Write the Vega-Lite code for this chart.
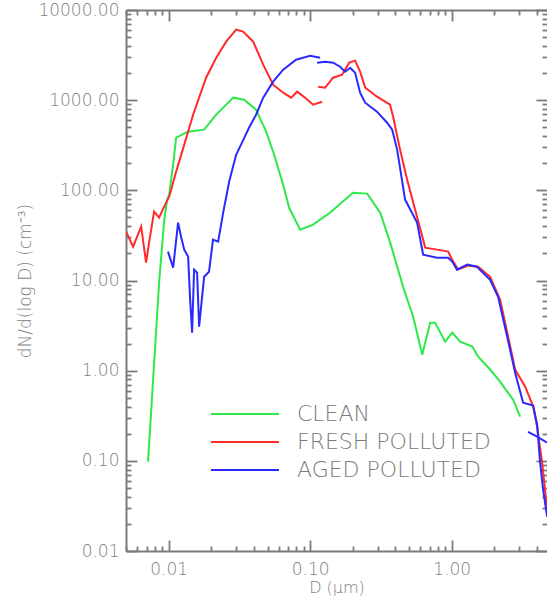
{
  "$schema": "https://vega.github.io/schema/vega-lite/v6.json",
  "width": 421,
  "height": 541,
  "autosize": {"type": "none"},
  "padding": {"left": 126, "top": 10, "right": 0, "bottom": 48},
  "background": "white",
  "config": {
    "view": {"stroke": null},
    "axis": {
      "grid": false,
      "domainColor": "#7a7a7a",
      "domainWidth": 2,
      "tickColor": "#7a7a7a",
      "tickWidth": 1.8,
      "labelFont": "DejaVu Sans",
      "labelFontWeight": 200,
      "labelFontSize": 17,
      "labelColor": "#808080",
      "titleFont": "DejaVu Sans",
      "titleFontWeight": 200,
      "titleFontSize": 17,
      "titleColor": "#808080",
      "labelOverlap": false,
      "labelFlush": false
    },
    "legend": {
      "orient": "none",
      "legendX": 84,
      "legendY": 396,
      "symbolType": "stroke",
      "symbolSize": 4624,
      "symbolStrokeWidth": 2,
      "clipHeight": 16,
      "rowPadding": 6,
      "labelOffset": 17,
      "labelFont": "DejaVu Sans",
      "labelFontWeight": 200,
      "labelFontSize": 22,
      "labelColor": "#7a7a7a",
      "labelLimit": 400,
      "padding": 0
    }
  },
  "data": {
    "values": [
      {"s": "CLEAN", "g": "c1", "D": 0.00716, "N": 0.098},
      {"s": "CLEAN", "g": "c1", "D": 0.00857, "N": 9.5},
      {"s": "CLEAN", "g": "c1", "D": 0.00929, "N": 45},
      {"s": "CLEAN", "g": "c1", "D": 0.00976, "N": 78.8},
      {"s": "CLEAN", "g": "c1", "D": 0.0101, "N": 89.5},
      {"s": "CLEAN", "g": "c1", "D": 0.01077, "N": 193},
      {"s": "CLEAN", "g": "c1", "D": 0.0113, "N": 384},
      {"s": "CLEAN", "g": "c1", "D": 0.01374, "N": 447},
      {"s": "CLEAN", "g": "c1", "D": 0.01783, "N": 471},
      {"s": "CLEAN", "g": "c1", "D": 0.0217, "N": 691},
      {"s": "CLEAN", "g": "c1", "D": 0.0286, "N": 1066},
      {"s": "CLEAN", "g": "c1", "D": 0.0342, "N": 1012},
      {"s": "CLEAN", "g": "c1", "D": 0.0415, "N": 785},
      {"s": "CLEAN", "g": "c1", "D": 0.0489, "N": 447},
      {"s": "CLEAN", "g": "c1", "D": 0.0557, "N": 248},
      {"s": "CLEAN", "g": "c1", "D": 0.0645, "N": 115},
      {"s": "CLEAN", "g": "c1", "D": 0.0711, "N": 64},
      {"s": "CLEAN", "g": "c1", "D": 0.085, "N": 36.6},
      {"s": "CLEAN", "g": "c1", "D": 0.105, "N": 41.6},
      {"s": "CLEAN", "g": "c1", "D": 0.138, "N": 56.5},
      {"s": "CLEAN", "g": "c1", "D": 0.201, "N": 94},
      {"s": "CLEAN", "g": "c1", "D": 0.253, "N": 92},
      {"s": "CLEAN", "g": "c1", "D": 0.313, "N": 56.5},
      {"s": "CLEAN", "g": "c1", "D": 0.368, "N": 26.3},
      {"s": "CLEAN", "g": "c1", "D": 0.454, "N": 8.5},
      {"s": "CLEAN", "g": "c1", "D": 0.535, "N": 3.97},
      {"s": "CLEAN", "g": "c1", "D": 0.62, "N": 1.5},
      {"s": "CLEAN", "g": "c1", "D": 0.705, "N": 3.41},
      {"s": "CLEAN", "g": "c1", "D": 0.764, "N": 3.41},
      {"s": "CLEAN", "g": "c1", "D": 0.9, "N": 2.1},
      {"s": "CLEAN", "g": "c1", "D": 1.01, "N": 2.64},
      {"s": "CLEAN", "g": "c1", "D": 1.15, "N": 2.1},
      {"s": "CLEAN", "g": "c1", "D": 1.4, "N": 1.85},
      {"s": "CLEAN", "g": "c1", "D": 1.54, "N": 1.43},
      {"s": "CLEAN", "g": "c1", "D": 1.87, "N": 1.03},
      {"s": "CLEAN", "g": "c1", "D": 2.2, "N": 0.755},
      {"s": "CLEAN", "g": "c1", "D": 2.47, "N": 0.585},
      {"s": "CLEAN", "g": "c1", "D": 2.72, "N": 0.477},
      {"s": "CLEAN", "g": "c1", "D": 3.05, "N": 0.309},

      {"s": "FRESH POLLUTED", "g": "f1", "D": 0.00501, "N": 34.8},
      {"s": "FRESH POLLUTED", "g": "f1", "D": 0.00561, "N": 23.7},
      {"s": "FRESH POLLUTED", "g": "f1", "D": 0.0064, "N": 39.5},
      {"s": "FRESH POLLUTED", "g": "f1", "D": 0.00693, "N": 15.8},
      {"s": "FRESH POLLUTED", "g": "f1", "D": 0.00728, "N": 26.3},
      {"s": "FRESH POLLUTED", "g": "f1", "D": 0.0079, "N": 58},
      {"s": "FRESH POLLUTED", "g": "f1", "D": 0.00857, "N": 49.8},
      {"s": "FRESH POLLUTED", "g": "f1", "D": 0.0093, "N": 65.9},
      {"s": "FRESH POLLUTED", "g": "f1", "D": 0.0101, "N": 85},
      {"s": "FRESH POLLUTED", "g": "f1", "D": 0.0113, "N": 161},
      {"s": "FRESH POLLUTED", "g": "f1", "D": 0.0129, "N": 321},
      {"s": "FRESH POLLUTED", "g": "f1", "D": 0.0149, "N": 690},
      {"s": "FRESH POLLUTED", "g": "f1", "D": 0.0184, "N": 1775},
      {"s": "FRESH POLLUTED", "g": "f1", "D": 0.0217, "N": 2958},
      {"s": "FRESH POLLUTED", "g": "f1", "D": 0.0255, "N": 4454},
      {"s": "FRESH POLLUTED", "g": "f1", "D": 0.03, "N": 6053},
      {"s": "FRESH POLLUTED", "g": "f1", "D": 0.0336, "N": 5754},
      {"s": "FRESH POLLUTED", "g": "f1", "D": 0.0396, "N": 4454},
      {"s": "FRESH POLLUTED", "g": "f1", "D": 0.0466, "N": 2477},
      {"s": "FRESH POLLUTED", "g": "f1", "D": 0.0548, "N": 1485},
      {"s": "FRESH POLLUTED", "g": "f1", "D": 0.0645, "N": 1211},
      {"s": "FRESH POLLUTED", "g": "f1", "D": 0.0734, "N": 1066},
      {"s": "FRESH POLLUTED", "g": "f1", "D": 0.081, "N": 1242},
      {"s": "FRESH POLLUTED", "g": "f1", "D": 0.0922, "N": 1066},
      {"s": "FRESH POLLUTED", "g": "f1", "D": 0.105, "N": 891},
      {"s": "FRESH POLLUTED", "g": "f1", "D": 0.1216, "N": 962},

      {"s": "FRESH POLLUTED", "g": "f2", "D": 0.114, "N": 1412},
      {"s": "FRESH POLLUTED", "g": "f2", "D": 0.1277, "N": 1376},
      {"s": "FRESH POLLUTED", "g": "f2", "D": 0.1455, "N": 1775},
      {"s": "FRESH POLLUTED", "g": "f2", "D": 0.1684, "N": 1918},
      {"s": "FRESH POLLUTED", "g": "f2", "D": 0.1887, "N": 2606},
      {"s": "FRESH POLLUTED", "g": "f2", "D": 0.208, "N": 2742},
      {"s": "FRESH POLLUTED", "g": "f2", "D": 0.2256, "N": 2070},
      {"s": "FRESH POLLUTED", "g": "f2", "D": 0.245, "N": 1376},
      {"s": "FRESH POLLUTED", "g": "f2", "D": 0.297, "N": 1093},
      {"s": "FRESH POLLUTED", "g": "f2", "D": 0.367, "N": 891},
      {"s": "FRESH POLLUTED", "g": "f2", "D": 0.386, "N": 656},
      {"s": "FRESH POLLUTED", "g": "f2", "D": 0.432, "N": 283},
      {"s": "FRESH POLLUTED", "g": "f2", "D": 0.485, "N": 131},
      {"s": "FRESH POLLUTED", "g": "f2", "D": 0.629, "N": 28.4},
      {"s": "FRESH POLLUTED", "g": "f2", "D": 0.65, "N": 23.1},
      {"s": "FRESH POLLUTED", "g": "f2", "D": 0.79, "N": 22},
      {"s": "FRESH POLLUTED", "g": "f2", "D": 0.945, "N": 20.9},
      {"s": "FRESH POLLUTED", "g": "f2", "D": 1.01, "N": 17},
      {"s": "FRESH POLLUTED", "g": "f2", "D": 1.11, "N": 13.2},
      {"s": "FRESH POLLUTED", "g": "f2", "D": 1.31, "N": 14.6},
      {"s": "FRESH POLLUTED", "g": "f2", "D": 1.54, "N": 14.2},
      {"s": "FRESH POLLUTED", "g": "f2", "D": 1.87, "N": 11},
      {"s": "FRESH POLLUTED", "g": "f2", "D": 2.2, "N": 6.13},
      {"s": "FRESH POLLUTED", "g": "f2", "D": 2.51, "N": 2.38},
      {"s": "FRESH POLLUTED", "g": "f2", "D": 2.81, "N": 1.03},
      {"s": "FRESH POLLUTED", "g": "f2", "D": 3.31, "N": 0.665},
      {"s": "FRESH POLLUTED", "g": "f2", "D": 3.77, "N": 0.4},
      {"s": "FRESH POLLUTED", "g": "f2", "D": 4.02, "N": 0.239},
      {"s": "FRESH POLLUTED", "g": "f2", "D": 4.36, "N": 0.0955},
      {"s": "FRESH POLLUTED", "g": "f2", "D": 4.73, "N": 0.0287},

      {"s": "AGED POLLUTED", "g": "a1", "D": 0.0099, "N": 20.9},
      {"s": "AGED POLLUTED", "g": "a1", "D": 0.01077, "N": 13.9},
      {"s": "AGED POLLUTED", "g": "a1", "D": 0.01167, "N": 43.8},
      {"s": "AGED POLLUTED", "g": "a1", "D": 0.01225, "N": 30.6},
      {"s": "AGED POLLUTED", "g": "a1", "D": 0.0129, "N": 22},
      {"s": "AGED POLLUTED", "g": "a1", "D": 0.01374, "N": 18.4},
      {"s": "AGED POLLUTED", "g": "a1", "D": 0.0142, "N": 6.13},
      {"s": "AGED POLLUTED", "g": "a1", "D": 0.01466, "N": 2.64},
      {"s": "AGED POLLUTED", "g": "a1", "D": 0.01514, "N": 13.2},
      {"s": "AGED POLLUTED", "g": "a1", "D": 0.0159, "N": 12.2},
      {"s": "AGED POLLUTED", "g": "a1", "D": 0.01643, "N": 3.08},
      {"s": "AGED POLLUTED", "g": "a1", "D": 0.01783, "N": 11},
      {"s": "AGED POLLUTED", "g": "a1", "D": 0.0193, "N": 12.5},
      {"s": "AGED POLLUTED", "g": "a1", "D": 0.0206, "N": 28.4},
      {"s": "AGED POLLUTED", "g": "a1", "D": 0.0224, "N": 27},
      {"s": "AGED POLLUTED", "g": "a1", "D": 0.0243, "N": 56.5},
      {"s": "AGED POLLUTED", "g": "a1", "D": 0.0268, "N": 125},
      {"s": "AGED POLLUTED", "g": "a1", "D": 0.03, "N": 248},
      {"s": "AGED POLLUTED", "g": "a1", "D": 0.0325, "N": 321},
      {"s": "AGED POLLUTED", "g": "a1", "D": 0.037, "N": 495},
      {"s": "AGED POLLUTED", "g": "a1", "D": 0.0415, "N": 690},
      {"s": "AGED POLLUTED", "g": "a1", "D": 0.0466, "N": 1066},
      {"s": "AGED POLLUTED", "g": "a1", "D": 0.0548, "N": 1603},
      {"s": "AGED POLLUTED", "g": "a1", "D": 0.0645, "N": 2180},
      {"s": "AGED POLLUTED", "g": "a1", "D": 0.0796, "N": 2812},
      {"s": "AGED POLLUTED", "g": "a1", "D": 0.1, "N": 3113},
      {"s": "AGED POLLUTED", "g": "a1", "D": 0.1177, "N": 2958},

      {"s": "AGED POLLUTED", "g": "a2", "D": 0.112, "N": 2606},
      {"s": "AGED POLLUTED", "g": "a2", "D": 0.1277, "N": 2673},
      {"s": "AGED POLLUTED", "g": "a2", "D": 0.1455, "N": 2606},
      {"s": "AGED POLLUTED", "g": "a2", "D": 0.163, "N": 2350},
      {"s": "AGED POLLUTED", "g": "a2", "D": 0.1767, "N": 2070},
      {"s": "AGED POLLUTED", "g": "a2", "D": 0.192, "N": 2290},
      {"s": "AGED POLLUTED", "g": "a2", "D": 0.208, "N": 2018},
      {"s": "AGED POLLUTED", "g": "a2", "D": 0.2256, "N": 1211},
      {"s": "AGED POLLUTED", "g": "a2", "D": 0.245, "N": 938},
      {"s": "AGED POLLUTED", "g": "a2", "D": 0.297, "N": 745},
      {"s": "AGED POLLUTED", "g": "a2", "D": 0.35, "N": 562},
      {"s": "AGED POLLUTED", "g": "a2", "D": 0.38, "N": 471},
      {"s": "AGED POLLUTED", "g": "a2", "D": 0.412, "N": 283},
      {"s": "AGED POLLUTED", "g": "a2", "D": 0.469, "N": 79},
      {"s": "AGED POLLUTED", "g": "a2", "D": 0.57, "N": 43.8},
      {"s": "AGED POLLUTED", "g": "a2", "D": 0.629, "N": 19.3},
      {"s": "AGED POLLUTED", "g": "a2", "D": 0.79, "N": 17.9},
      {"s": "AGED POLLUTED", "g": "a2", "D": 0.945, "N": 17.9},
      {"s": "AGED POLLUTED", "g": "a2", "D": 1.01, "N": 16.2},
      {"s": "AGED POLLUTED", "g": "a2", "D": 1.09, "N": 13.2},
      {"s": "AGED POLLUTED", "g": "a2", "D": 1.29, "N": 15},
      {"s": "AGED POLLUTED", "g": "a2", "D": 1.51, "N": 14.2},
      {"s": "AGED POLLUTED", "g": "a2", "D": 1.87, "N": 10.2},
      {"s": "AGED POLLUTED", "g": "a2", "D": 2.13, "N": 6.6},
      {"s": "AGED POLLUTED", "g": "a2", "D": 2.47, "N": 2.38},
      {"s": "AGED POLLUTED", "g": "a2", "D": 2.81, "N": 0.95},
      {"s": "AGED POLLUTED", "g": "a2", "D": 3.2, "N": 0.442},
      {"s": "AGED POLLUTED", "g": "a2", "D": 3.77, "N": 0.41},
      {"s": "AGED POLLUTED", "g": "a2", "D": 4.02, "N": 0.25},
      {"s": "AGED POLLUTED", "g": "a2", "D": 4.22, "N": 0.0955},
      {"s": "AGED POLLUTED", "g": "a2", "D": 4.43, "N": 0.0479},
      {"s": "AGED POLLUTED", "g": "a2", "D": 4.73, "N": 0.024},

      {"s": "AGED POLLUTED", "g": "a3", "D": 3.47, "N": 0.21},
      {"s": "AGED POLLUTED", "g": "a3", "D": 4.02, "N": 0.185},
      {"s": "AGED POLLUTED", "g": "a3", "D": 4.73, "N": 0.159}
    ]
  },
  "layer": [
    {
      "mark": {"type": "line", "strokeWidth": 2, "clip": true},
      "encoding": {
        "x": {
          "field": "D", "type": "quantitative",
          "scale": {"type": "log", "domain": [0.005, 4.72], "nice": false},
          "axis": {
            "orient": "bottom",
            "values": [0.01, 0.1, 1],
            "format": ".2f",
            "ticks": false,
            "labelPadding": 10,
            "title": "D (μm)",
            "titleFontSize": 16,
            "titlePadding": 2
          }
        },
        "y": {
          "field": "N", "type": "quantitative",
          "scale": {"type": "log", "domain": [0.01, 10000], "nice": false},
          "axis": {
            "orient": "left",
            "values": [0.01, 0.1, 1, 10, 100, 1000, 10000],
            "format": ".2f",
            "ticks": false,
            "labelPadding": 7,
            "title": "dN/d(log D) (cm⁻³)",
            "titlePadding": 3
          }
        },
        "color": {
          "field": "s", "type": "nominal",
          "scale": {"domain": ["CLEAN", "FRESH POLLUTED", "AGED POLLUTED"], "range": ["#2ee84a", "#ff2a2a", "#2a2aff"]},
          "legend": {"title": null}
        },
        "detail": {"field": "g"}
      }
    },
    {
      "mark": {"type": "line", "opacity": 0},
      "encoding": {
        "x": {
          "field": "D", "type": "quantitative",
          "axis": {"orient": "bottom", "values": [0.01, 0.1, 1], "labels": false, "domain": false, "tickSize": -11, "title": null}
        },
        "y": {
          "field": "N", "type": "quantitative",
          "axis": {"orient": "left", "values": [0.01, 0.1, 1, 10, 100, 1000, 10000], "labels": false, "domain": false, "tickSize": -11, "title": null}
        },
        "detail": {"field": "g"}
      }
    },
    {
      "mark": {"type": "line", "opacity": 0},
      "encoding": {
        "x": {
          "field": "D", "type": "quantitative",
          "axis": {
            "orient": "bottom",
            "values": [0.005, 0.006, 0.007, 0.008, 0.009, 0.02, 0.03, 0.04, 0.05, 0.06, 0.07, 0.08, 0.09, 0.2, 0.3, 0.4, 0.5, 0.6, 0.7, 0.8, 0.9, 2, 3, 4],
            "labels": false, "domain": false, "tickSize": -5, "title": null
          }
        },
        "y": {
          "field": "N", "type": "quantitative",
          "axis": {
            "orient": "left",
            "values": [0.02, 0.03, 0.04, 0.05, 0.06, 0.07, 0.08, 0.09, 0.2, 0.3, 0.4, 0.5, 0.6, 0.7, 0.8, 0.9, 2, 3, 4, 5, 6, 7, 8, 9, 20, 30, 40, 50, 60, 70, 80, 90, 200, 300, 400, 500, 600, 700, 800, 900, 2000, 3000, 4000, 5000, 6000, 7000, 8000, 9000],
            "labels": false, "domain": false, "tickSize": -5, "title": null
          }
        },
        "detail": {"field": "g"}
      }
    },
    {
      "mark": {"type": "line", "opacity": 0},
      "encoding": {
        "x": {
          "field": "D", "type": "quantitative",
          "axis": {"orient": "top", "values": [0.01, 0.1, 1], "labels": false, "domain": true, "tickSize": -11, "title": null}
        },
        "y": {
          "field": "N", "type": "quantitative",
          "axis": {"orient": "right", "values": [0.01, 0.1, 1, 10, 100, 1000, 10000], "labels": false, "domain": false, "tickSize": -11, "title": null}
        },
        "detail": {"field": "g"}
      }
    },
    {
      "mark": {"type": "line", "opacity": 0},
      "encoding": {
        "x": {
          "field": "D", "type": "quantitative",
          "axis": {
            "orient": "top",
            "values": [0.005, 0.006, 0.007, 0.008, 0.009, 0.02, 0.03, 0.04, 0.05, 0.06, 0.07, 0.08, 0.09, 0.2, 0.3, 0.4, 0.5, 0.6, 0.7, 0.8, 0.9, 2, 3, 4],
            "labels": false, "domain": false, "tickSize": -5, "title": null
          }
        },
        "y": {
          "field": "N", "type": "quantitative",
          "axis": {
            "orient": "right",
            "values": [0.02, 0.03, 0.04, 0.05, 0.06, 0.07, 0.08, 0.09, 0.2, 0.3, 0.4, 0.5, 0.6, 0.7, 0.8, 0.9, 2, 3, 4, 5, 6, 7, 8, 9, 20, 30, 40, 50, 60, 70, 80, 90, 200, 300, 400, 500, 600, 700, 800, 900, 2000, 3000, 4000, 5000, 6000, 7000, 8000, 9000],
            "labels": false, "domain": false, "tickSize": -5, "title": null
          }
        },
        "detail": {"field": "g"}
      }
    }
  ],
  "resolve": {"axis": {"x": "independent", "y": "independent"}}
}
